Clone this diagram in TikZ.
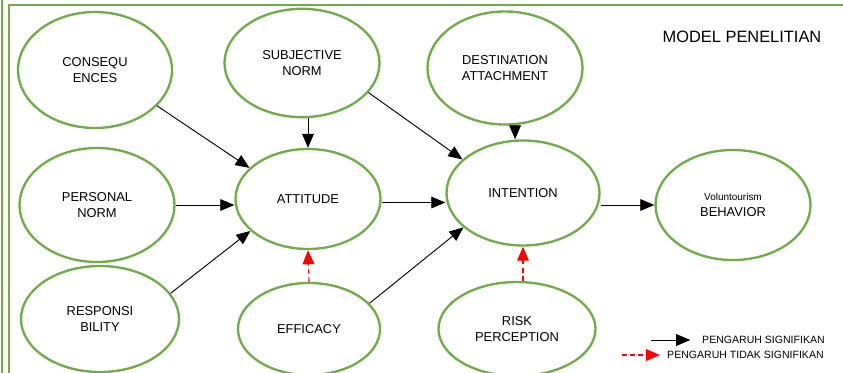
\documentclass[tikz,border=0pt]{standalone}
\usepackage{fontspec}
\setmainfont{Liberation Sans}
\usetikzlibrary{shapes.geometric,arrows.meta}
\definecolor{modelgreen}{RGB}{112,173,71}
\tikzset{
  var/.style={ellipse, draw=modelgreen, line width=2pt, inner sep=0pt, align=center,
    font=\fontsize{11}{13}\selectfont},
  sig/.style={draw=black, line width=0.8pt, -{Triangle[length=12pt,width=10pt]}},
  nonsig/.style={draw=red, line width=1pt, dash pattern=on 4pt off 3pt,
    -{Triangle[length=12pt,width=10pt,fill=red]}},
  legtext/.style={anchor=west, inner sep=0pt, font=\fontsize{9}{11}\selectfont}
}
\begin{document}
\begin{tikzpicture}[x=0.03cm,y=-0.03cm]
                        \useasboundingbox (0,0) rectangle (843,373);
                        % Drawing the frame
                        \draw [modelgreen, line width=1.5pt] (2,0) -- (2,373);%
                        \draw [modelgreen, line width=1.5pt] (9,373) -- (9,5) -- (843,5);%
                        \node (title) at (742,37) {\fontsize{14}{16}\selectfont MODEL PENELITIAN};%

                        % Marking the variables by ellipses
                        \node [var, minimum width=4.62cm, minimum height=3.48cm] (conseq) at (95,70) {CONSEQU\\ENCES};%
                        \node [var, minimum width=4.65cm, minimum height=3.25cm] (subj) at (302,63) {SUBJECTIVE\\NORM};%
                        \node [var, minimum width=4.65cm, minimum height=3.39cm] (dest) at (505,68) {DESTINATION\\ATTACHMENT};%
                        \node [var, minimum width=4.65cm, minimum height=3.42cm] (personal) at (97,205) {PERSONAL\\NORM};%
                        \node [var, minimum width=4.35cm, minimum height=3.0cm] (att) at (308,199) {ATTITUDE};%
                        \node [var, minimum width=4.59cm, minimum height=3.15cm] (int) at (523,193) {INTENTION};%
                        \node [var, minimum width=4.65cm, minimum height=3.3cm] (beh) at (733,205) {{\fontsize{8.5}{10}\selectfont Voluntourism}\\BEHAVIOR};%
                        \node [var, minimum width=4.74cm, minimum height=3.18cm] (resp) at (100,319) {RESPONSI\\BILITY};%
                        \node [var, minimum width=4.26cm, minimum height=2.76cm] (eff) at (309,329) {EFFICACY};%
                        \node [var, minimum width=4.71cm, minimum height=2.82cm] (risk) at (517,329) {RISK\\PERCEPTION};%

                        % Drawing significant paths
                        \draw [sig] (conseq.-30) -- (att.152);%
                        \draw [sig] (subj.south -| att.north) -- (att.north);%
                        \draw [sig] (subj.-24) -- (int.151);%
                        \draw [sig] (dest.-80) -- (dest.-80 |- int.north);%
                        \draw [sig] (personal.east) -- (personal.east -| att.west);%
                        \draw [sig] ([yshift=-3pt]att.east) -- ([yshift=-3pt]att.east -| int.west);%
                        \draw [sig] (resp.20) -- (att.209);%
                        \draw [sig] (eff.23) -- (int.210);%
                        \draw [sig] (int.east |- beh.west) -- (beh.west);%

                        % Drawing non-significant paths
                        \draw [nonsig] (eff.north) -- (att.south);%
                        \draw [nonsig] (risk.north -| int.south) -- (int.south);%

                        % Legend
                        \coordinate (legA) at (651,340);%
                        \coordinate (legB) at (622,355);%
                        \node [legtext] (legsig) at (702,340) {PENGARUH SIGNIFIKAN};%
                        \node [legtext] (legnon) at (667,355) {PENGARUH TIDAK SIGNIFIKAN};%
                        \draw [sig] (legA) -- ([xshift=-10pt]legsig.west);%
                        \draw [nonsig] (legB) -- ([xshift=-6pt]legnon.west);%
                    \end{tikzpicture}
\end{document}
